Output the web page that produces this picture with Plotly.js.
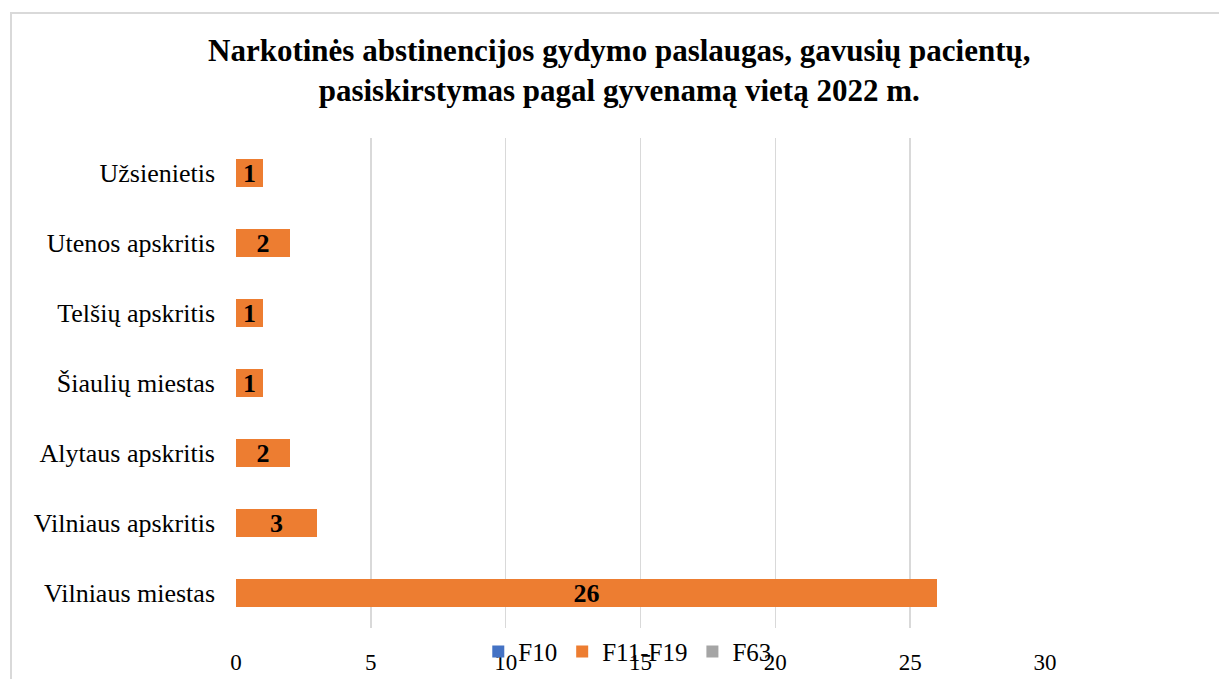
<!DOCTYPE html>
<html>
<head>
<meta charset="utf-8">
<script src="https://cdn.plot.ly/plotly-3.0.1.min.js"></script>
<style>
  body { margin: 0; background: #fff; }
  #wrap { position: relative; width: 1219px; height: 679px; overflow: hidden; }
  #frame { position: absolute; left: 10px; top: 12px; width: 1300px; height: 800px;
           border: 2px solid #d9d9d9; pointer-events: none; }
</style>
</head>
<body>
<div id="wrap">
  <div id="chart" style="width:1219px;height:679px;"></div>
  <div id="frame"></div>
</div>
<script>
// categories bottom -> top
const places = ["Vilniaus miestas", "Vilniaus apskritis", "Alytaus apskritis",
  "Šiaulių miestas", "Telšių apskritis", "Utenos apskritis", "Užsienietis"];
const f10 = [0, 0, 0, 0, 0, 0, 0];
const f11_19 = [26, 3, 2, 1, 1, 2, 1];
const f63 = [0, 0, 0, 0, 0, 0, 0];
const xTicks = [0, 5, 10, 15, 20, 25, 30];

const serif = "Liberation Serif, Times New Roman, serif";

const traces = [
  { name: "F10", y: places, x: f10, type: "bar", orientation: "h",
    marker: { color: "#4472C4" } },
  { name: "F11-F19", y: places, x: f11_19, type: "bar", orientation: "h",
    marker: { color: "#ED7D31" },
    text: f11_19.map(String), textposition: "inside", insidetextanchor: "middle",
    textangle: 0, constraintext: "none",
    textfont: { family: serif, size: 26, color: "#000", weight: "bold" } },
  { name: "F63", y: places, x: f63, type: "bar", orientation: "h",
    marker: { color: "#A5A5A5" } },
];

const layout = {
  width: 1219, height: 679,
  barmode: "stack", bargap: 0.6,
  margin: { l: 236, r: 174, t: 138, b: 51, autoexpand: false },
  paper_bgcolor: "#fff", plot_bgcolor: "#fff",
  font: { family: serif, color: "#000" },
  title: {
    text: "<b>Narkotinės abstinencijos gydymo paslaugas, gavusių pacientų,<br>pasiskirstymas pagal gyvenamą vietą 2022 m.</b>",
    font: { family: serif, size: 31, color: "#000" },
    x: 0.508, xanchor: "center", y: 0.91, yanchor: "middle"
  },
  xaxis: {
    range: [0, 30], tickvals: xTicks, showgrid: true, gridcolor: "#d9d9d9", gridwidth: 1.5,
    zeroline: false, showline: false, ticks: "", ticklabelstandoff: 18,
    tickfont: { family: serif, size: 23, color: "#000" }
  },
  yaxis: {
    categoryorder: "array", categoryarray: places,
    showgrid: false, zeroline: false, showline: false, ticks: "", ticklabelstandoff: 20,
    tickfont: { family: serif, size: 26, color: "#000" }
  },
  showlegend: true,
  legend: {
    orientation: "h", xref: "container", yref: "container",
    x: 0.515, xanchor: "center", y: 0.04, yanchor: "middle",
    font: { family: serif, size: 25, color: "#000" }, bgcolor: "rgba(0,0,0,0)",
    itemwidth: 30, traceorder: "normal"
  },
};

Plotly.newPlot("chart", traces, layout, { displayModeBar: false, staticPlot: true });
</script>
</body>
</html>
